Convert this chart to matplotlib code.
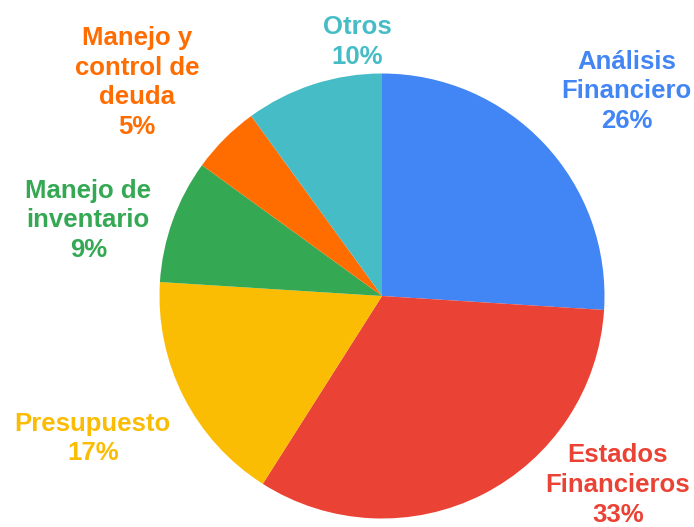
import matplotlib
matplotlib.use("Agg")
import matplotlib.pyplot as plt

plt.rcParams['font.family'] = ['Liberation Sans', 'DejaVu Sans']

# slices in clockwise order from 12 o'clock
labels = ["Análisis\nFinanciero", "Estados\nFinancieros", "Presupuesto",
          "Manejo de\ninventario", "Manejo y\ncontrol de\ndeuda", "Otros"]
values = [26, 33, 17, 9, 5, 10]
colors = ["#4285F4", "#EA4335", "#FBBC04", "#34A853", "#FF6D01", "#46BDC6"]

# label block centres, in units of pie radius relative to the pie centre
label_xy = [(1.10, 0.92), (1.06, -0.85), (-1.30, -0.64),
            (-1.32, 0.34), (-1.10, 0.96), (-0.11, 1.14)]

W, H = 694, 527
cx, cy, r = 382, 296, 222.5

fig = plt.figure(figsize=(W / 100, H / 100), dpi=100)
ax = fig.add_axes([(cx - r) / W, (H - cy - r) / H, 2 * r / W, 2 * r / H])
ax.pie(values, colors=colors, startangle=90, counterclock=False,
       radius=1, wedgeprops=dict(linewidth=0))
ax.set_xlim(-1, 1)
ax.set_ylim(-1, 1)
ax.set_aspect("equal")
ax.axis("off")

for lab, v, c, (x, y) in zip(labels, values, colors, label_xy):
    ax.text(x, y, f"{lab}\n{v}%", color=c, fontsize=18.5, fontweight="bold",
            ha="center", va="center", linespacing=1.3, clip_on=False)

fig.savefig("out.png", dpi=100)
